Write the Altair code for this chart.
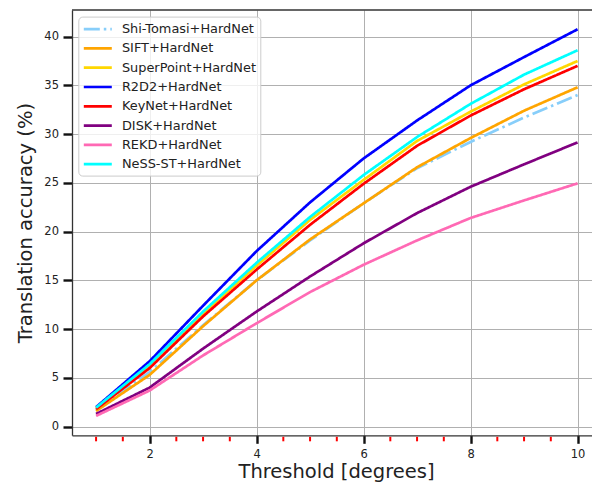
import altair as alt
import pandas as pd

thresholds = [1, 2, 3, 4, 5, 6, 7, 8, 9, 10]

shi_tomasi = [1.7, 5.6, 10.4, 15.0, 19.1, 22.9, 26.5, 29.2, 31.7, 34.0]
sift = [1.6, 5.3, 10.3, 15.0, 19.2, 22.9, 26.6, 29.6, 32.4, 34.8]
superpoint = [1.9, 6.2, 11.6, 16.5, 21.2, 25.3, 29.3, 32.3, 35.1, 37.5]
r2d2 = [2.0, 6.7, 12.4, 18.0, 23.0, 27.5, 31.4, 35.0, 37.9, 40.75]
keynet = [1.8, 6.0, 11.3, 16.1, 20.7, 24.9, 28.8, 31.9, 34.6, 37.0]
disk = [1.3, 4.0, 8.0, 11.8, 15.4, 18.8, 21.9, 24.6, 26.9, 29.15]
rekd = [1.1, 3.7, 7.3, 10.6, 13.8, 16.6, 19.1, 21.4, 23.2, 24.95]
ness_st = [1.95, 6.4, 11.8, 16.8, 21.5, 25.8, 29.7, 33.1, 36.1, 38.6]

methods = [
    "Shi-Tomasi+HardNet",
    "SIFT+HardNet",
    "SuperPoint+HardNet",
    "R2D2+HardNet",
    "KeyNet+HardNet",
    "DISK+HardNet",
    "REKD+HardNet",
    "NeSS-ST+HardNet",
]
series = [shi_tomasi, sift, superpoint, r2d2, keynet, disk, rekd, ness_st]
colors = ["#87cefa", "#ffa500", "#ffd700", "#0000ff", "#ff0000", "#800080", "#ff69b4", "#00ffff"]
dashes = [[16, 4, 2.5, 4]] + [[1, 0]] * 7

major_x = [2, 4, 6, 8, 10]
minor_x = [1, 1.5, 2.5, 3, 3.5, 4.5, 5, 5.5, 6.5, 7, 7.5, 8.5, 9, 9.5]
y_ticks = [0, 5, 10, 15, 20, 25, 30, 35, 40]

rows = []
for m, vals in zip(methods, series):
    for t, v in zip(thresholds, vals):
        rows.append({"threshold": t, "accuracy": v, "method": m})
df = pd.DataFrame(rows)

W, H = 520, 425.3
FONT = "DejaVu Sans"
xscale = alt.Scale(domain=[0.55, 10.27], nice=False, zero=False)
yscale = alt.Scale(domain=[-0.89, 42.73], nice=False, zero=False)

leg = alt.Legend(title=None, orient="none", legendX=6.3, legendY=6.6)

lines = alt.Chart(df).mark_line(strokeWidth=2.7, clip=True).encode(
    x=alt.X(
        "threshold:Q",
        scale=xscale,
        axis=alt.Axis(
            values=major_x,
            format="d",
            title="Threshold [degrees]",
            tickSize=8,
            labelPadding=5,
            titleX=264,
            titleY=42.4,
            titleBaseline="alphabetic",
        ),
    ),
    y=alt.Y(
        "accuracy:Q",
        scale=yscale,
        axis=alt.Axis(
            values=y_ticks,
            format="d",
            title="Translation accuracy (%)",
            tickSize=9,
            labelPadding=4.5,
            titleX=-41,
            titleBaseline="alphabetic",
            titleAngle=270,
        ),
    ),
    color=alt.Color("method:N", scale=alt.Scale(domain=methods, range=colors), legend=leg),
    strokeDash=alt.StrokeDash("method:N", scale=alt.Scale(domain=methods, range=dashes), legend=leg),
)

minor = alt.Chart(pd.DataFrame({"threshold": minor_x})).mark_rule(color="#ff0000", strokeWidth=2).encode(
    x=alt.X("threshold:Q", scale=xscale),
    y=alt.value(H + 1.5),
    y2=alt.value(H + 6),
)

top = alt.Chart(pd.DataFrame({"a": [0]})).mark_rule(color="#333333", strokeWidth=1.3).encode(
    x=alt.value(0), x2=alt.value(W), y=alt.value(0)
)

chart = (
    alt.layer(lines, minor, top)
    .properties(
        width=W,
        height=H,
        autosize=alt.AutoSizeParams(type="none"),
        padding={"left": 64, "top": 2, "right": 0, "bottom": 47.7},
    )
    .configure_view(stroke=None)
    .configure_axis(
        labelFont=FONT,
        titleFont=FONT,
        labelFontSize=11.5,
        titleFontSize=19.5,
        titleFontWeight="normal",
        labelColor="#222222",
        titleColor="#222222",
        gridColor="#b0b0b0",
        gridWidth=1,
        domainColor="#333333",
        domainWidth=1.3,
        tickColor="#111111",
        tickWidth=2.4,
    )
    .configure_legend(
        labelFont=FONT,
        labelFontSize=12.9,
        labelColor="#222222",
        labelLimit=400,
        symbolType="M-1,0L3,0",
        symbolSize=196,
        symbolStrokeWidth=2.7,
        labelOffset=22.6,
        rowPadding=3.3,
        padding=4,
        fillColor="rgba(255,255,255,0.8)",
        strokeColor="#cccccc",
        cornerRadius=4,
    )
)

chart.save("out.html", embed_options={"renderer": "svg", "actions": False})
